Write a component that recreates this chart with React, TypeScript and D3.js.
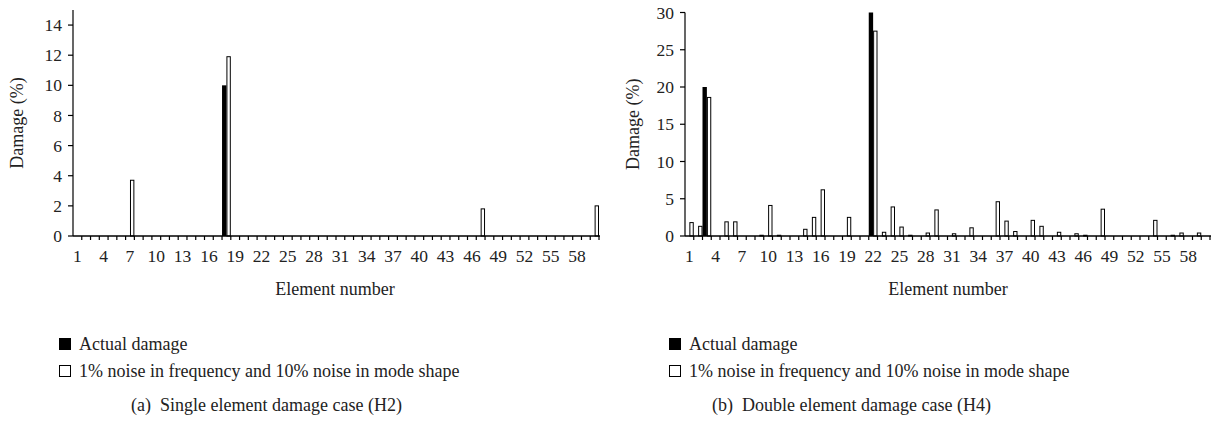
import { useMemo } from 'react';
import * as d3 from 'd3';

// element numbers along the x axis
const elements = d3.range(1, 61);
const xTickLabels = [1, 4, 7, 10, 13, 16, 19, 22, 25, 28, 31, 34, 37, 40, 43, 46, 49, 52, 55, 58];

// (a) single element damage case H2
const h2ActualElements = [18];
const h2ActualValues = [10];
const h2NoiseElements = [7, 18, 47, 60];
const h2NoiseValues = [3.7, 11.9, 1.8, 2.0];
const h2YTicks = [0, 2, 4, 6, 8, 10, 12, 14];

// (b) double element damage case H4
const h4ActualElements = [3, 22];
const h4ActualValues = [20, 30];
const h4NoiseElements = [1, 2, 3, 5, 6, 9, 10, 11, 14, 15, 16, 19, 22, 23, 24, 25, 26, 28, 29, 31, 33, 36, 37, 38, 40, 41, 43, 45, 46, 48, 54, 56, 57, 59];
const h4NoiseValues = [1.8, 1.3, 18.6, 1.9, 1.9, 0.1, 4.1, 0.1, 0.9, 2.5, 6.2, 2.5, 27.5, 0.5, 3.9, 1.2, 0.1, 0.4, 3.5, 0.3, 1.1, 4.6, 2.0, 0.6, 2.1, 1.3, 0.5, 0.3, 0.1, 3.6, 2.1, 0.1, 0.4, 0.4];
const h4YTicks = [0, 5, 10, 15, 20, 25, 30];

const legendLabels = ['Actual damage', '1% noise in frequency and 10% noise in mode shape'];
const FONT = '"Liberation Serif", "Times New Roman", serif';

type PanelProps = {
  x0: number; x1: number; yTop: number; yBottom: number;
  yMax: number; yTicks: number[];
  actualEls: number[]; actualVals: number[];
  noiseEls: number[]; noiseVals: number[];
  yTitleX: number; xTitleX: number; legendX: number;
  caption: string; captionX: number;
};

function Panel(p: PanelProps) {
  const x = useMemo(() => d3.scaleBand<number>().domain(elements).range([p.x0, p.x1]).paddingInner(0).paddingOuter(0), [p.x0, p.x1]);
  const y = useMemo(() => d3.scaleLinear().domain([0, p.yMax]).range([p.yBottom, p.yTop]), [p.yMax, p.yBottom, p.yTop]);
  const sub = d3.scaleBand<string>().domain(['actual', 'noise']).range([0, x.bandwidth()]).padding(0);
  const bw = sub.bandwidth();

  return (
    <g fontFamily={FONT} fill="#222">
      {/* bars */}
      {p.actualEls.map((e, i) => (
        <rect key={'a' + e} x={(x(e) ?? 0) + (sub('actual') ?? 0)} y={y(p.actualVals[i])}
          width={bw} height={y(0) - y(p.actualVals[i])} fill="#000" />
      ))}
      {p.noiseEls.map((e, i) => (
        <rect key={'n' + e} x={(x(e) ?? 0) + (sub('noise') ?? 0) + 0.5} y={y(p.noiseVals[i])}
          width={bw - 1} height={y(0) - y(p.noiseVals[i])} fill="#fff" stroke="#000" strokeWidth={1} />
      ))}

      {/* y axis */}
      <line x1={p.x0} x2={p.x0} y1={y(p.yMax)} y2={y(0)} stroke="#000" strokeWidth={1.2} />
      {p.yTicks.map(t => (
        <g key={'y' + t}>
          <line x1={p.x0 - 5} x2={p.x0} y1={y(t)} y2={y(t)} stroke="#000" strokeWidth={1.2} />
          <text x={p.x0 - 11} y={y(t)} dy="0.35em" textAnchor="end" fontSize={17.5}>{t}</text>
        </g>
      ))}
      <text transform={`translate(${p.yTitleX},${(p.yTop + p.yBottom) / 2}) rotate(-90)`} textAnchor="middle" dy="0.35em" fontSize={18}>Damage (%)</text>

      {/* x axis */}
      <line x1={p.x0} x2={p.x1 + 1} y1={y(0)} y2={y(0)} stroke="#000" strokeWidth={1.4} />
      {elements.map(e => (
        <line key={'xt' + e} x1={(x(e) ?? 0) + x.bandwidth()} x2={(x(e) ?? 0) + x.bandwidth()} y1={y(0)} y2={y(0) + 4} stroke="#000" strokeWidth={1.2} />
      ))}
      {xTickLabels.map(l => (
        <text key={'xl' + l} x={(x(l) ?? 0) + x.bandwidth() / 2} y={p.yBottom + 26} textAnchor="middle" fontSize={17.5}>{l}</text>
      ))}
      <text x={p.xTitleX} y={p.yBottom + 59} textAnchor="middle" fontSize={18}>Element number</text>

      {/* legend */}
      <rect x={p.legendX} y={338} width={12} height={12} fill="#000" />
      <text x={p.legendX + 20} y={350} fontSize={18}>{legendLabels[0]}</text>
      <rect x={p.legendX + 0.5} y={365.5} width={11} height={11} fill="#fff" stroke="#000" strokeWidth={1} />
      <text x={p.legendX + 20} y={377} fontSize={18}>{legendLabels[1]}</text>

      {/* caption */}
      <text x={p.captionX} y={411} fontSize={18} xmlSpace="preserve">{p.caption}</text>
    </g>
  );
}

export default function App() {
  return (
    <svg width={1212} height={421} style={{ position: 'absolute', left: 0, top: 0, background: '#fff' }}>
      <Panel x0={73} x1={599} yTop={10} yBottom={236} yMax={15} yTicks={h2YTicks}
        actualEls={h2ActualElements} actualVals={h2ActualValues}
        noiseEls={h2NoiseElements} noiseVals={h2NoiseValues}
        yTitleX={17} xTitleX={335} legendX={59}
        caption="(a)  Single element damage case (H2)" captionX={131} />
      <Panel x0={685} x1={1210} yTop={12.5} yBottom={236} yMax={30} yTicks={h4YTicks}
        actualEls={h4ActualElements} actualVals={h4ActualValues}
        noiseEls={h4NoiseElements} noiseVals={h4NoiseValues}
        yTitleX={633} xTitleX={948} legendX={669}
        caption="(b)  Double element damage case (H4)" captionX={712} />
    </svg>
  );
}
